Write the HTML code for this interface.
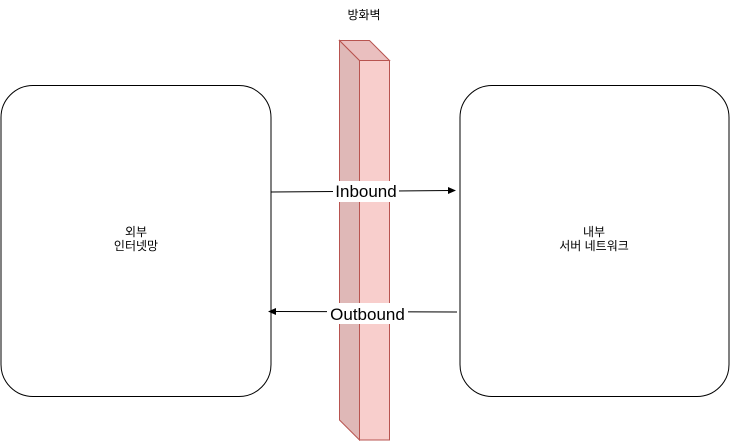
<!DOCTYPE html>
<html><head><meta charset="utf-8"><style>body{margin:0;background:#fff}</style></head><body>
<svg width="731" height="441" viewBox="0 0 731 441" xmlns="http://www.w3.org/2000/svg" font-family="Liberation Sans, Noto Sans CJK KR, sans-serif">
<rect x="1" y="85.5" width="270" height="311" rx="32" fill="#fff" stroke="#000"/>
<rect x="460" y="85.5" width="269" height="311" rx="32" fill="#fff" stroke="#000"/>
<text x="136" y="236" font-size="12" text-anchor="middle">외부</text>
<text x="136" y="250" font-size="12" text-anchor="middle">인터넷망</text>
<text x="594" y="236" font-size="12" text-anchor="middle">내부</text>
<text x="594" y="250" font-size="12" text-anchor="middle">서버 네트워크</text>
<text x="364" y="19" font-size="12" text-anchor="middle">방화벽</text>
<polygon points="339.5,40.5 359.5,60.5 359.5,440 339.5,420" fill="#dfb8b7" stroke="#b85450"/>
<polygon points="339.5,40.5 369.5,40.5 389.5,60.5 359.5,60.5" fill="#eabfbf" stroke="#b85450"/>
<rect x="359.5" y="60.5" width="30" height="379.5" fill="#f8cecc" stroke="#b85450"/>
<line x1="271" y1="192" x2="450" y2="190.5" stroke="#000"/>
<polygon points="456,190.5 448,187 448,194" fill="#000"/>
<rect x="333" y="181" width="66" height="21" fill="#fff"/>
<text x="366" y="197" font-size="17" text-anchor="middle">Inbound</text>
<line x1="457" y1="312" x2="274" y2="311.5" stroke="#000"/>
<polygon points="268,311.5 276,308 276,315" fill="#000"/>
<rect x="327" y="303" width="81" height="21" fill="#fff"/>
<text x="367.5" y="320" font-size="17" text-anchor="middle">Outbound</text>
</svg>
</body></html>
